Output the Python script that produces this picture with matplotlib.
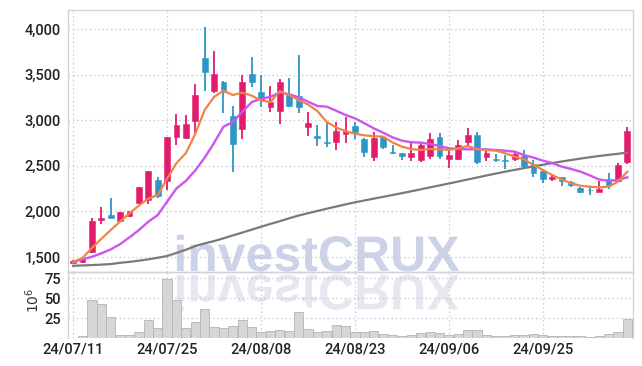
import numpy as np
import matplotlib
matplotlib.use("Agg")
import matplotlib.pyplot as plt
from matplotlib.ticker import FuncFormatter
from matplotlib.textpath import TextPath
from matplotlib.patches import PathPatch
from matplotlib.font_manager import FontProperties
from matplotlib.transforms import Affine2D

# daily candles (KRW), 24/07/11 .. 24/10/11
opens = [1440, 1450, 1550, 1910, 1960, 1890, 1955, 2090, 2120, 2340,
         2330, 2815, 2810, 2995, 3685, 3315, 3420, 3045, 2900, 3505,
         3305, 3140, 3105, 3290, 3265, 2920, 2825, 2765, 2765, 2845,
         2935, 2790, 2600, 2820, 2655, 2635, 2600, 2565, 2610, 2820,
         2575, 2580, 2765, 2840, 2600, 2580, 2560, 2575, 2605, 2520,
         2445, 2355, 2375, 2320, 2260, 2240, 2215, 2350, 2335, 2545]
highs = [1465, 1500, 1925, 2050, 2145, 1995, 2005, 2270, 2445, 2375,
         2820, 3065, 3055, 3395, 4020, 3760, 3430, 3155, 3495, 3690,
         3495, 3375, 3450, 3460, 3715, 3085, 2945, 2985, 2975, 3040,
         2975, 2810, 2875, 2830, 2730, 2640, 2765, 2745, 2865, 2865,
         2675, 2785, 2910, 2875, 2665, 2630, 2620, 2655, 2675, 2565,
         2455, 2400, 2380, 2330, 2265, 2270, 2335, 2425, 2535, 2920]
lows = [1430, 1440, 1540, 1860, 1925, 1885, 1940, 2080, 2085, 2150,
        2230, 2730, 2790, 2855, 3320, 3295, 3080, 2435, 2795, 3365,
        3150, 3090, 2960, 3145, 3080, 2825, 2715, 2710, 2675, 2750,
        2790, 2600, 2555, 2680, 2630, 2560, 2555, 2540, 2580, 2580,
        2475, 2565, 2705, 2525, 2555, 2545, 2460, 2555, 2475, 2375,
        2310, 2335, 2280, 2265, 2200, 2185, 2210, 2245, 2330, 2520]
closes = [1455, 1490, 1895, 1925, 1930, 1990, 2000, 2265, 2440, 2165,
          2815, 2945, 2955, 3275, 3530, 3505, 3305, 2735, 3415, 3415,
          3220, 3195, 3420, 3160, 3140, 2965, 2810, 2750, 2880, 2880,
          2875, 2655, 2800, 2710, 2640, 2610, 2645, 2730, 2795, 2610,
          2620, 2730, 2840, 2545, 2635, 2565, 2550, 2625, 2500, 2420,
          2355, 2375, 2335, 2290, 2210, 2230, 2250, 2290, 2510, 2880]

ma_short = [1445, 1490, 1600, 1700, 1796, 1890, 1980, 2065, 2140, 2180,
            2360, 2530, 2640, 2850, 3112, 3255, 3323, 3276, 3302, 3270,
            3215, 3200, 3320, 3276, 3221, 3172, 3100, 2980, 2920, 2880,
            2852, 2834, 2825, 2820, 2756, 2710, 2684, 2673, 2684, 2681,
            2673, 2692, 2717, 2684, 2673, 2666, 2637, 2600, 2571, 2509,
            2454, 2399, 2352, 2308, 2282, 2271, 2264, 2271, 2326, 2436]
ma_mid = [1448, 1474, 1503, 1540, 1584, 1642, 1716, 1796, 1887, 1960,
          2107, 2253, 2335, 2450, 2590, 2750, 2929, 2980, 3090, 3198,
          3235, 3255, 3304, 3282, 3251, 3203, 3156, 3148, 3104, 3057,
          3021, 2966, 2911, 2863, 2812, 2776, 2758, 2754, 2739, 2717,
          2692, 2684, 2681, 2681, 2681, 2673, 2666, 2655, 2618, 2590,
          2557, 2530, 2491, 2466, 2436, 2395, 2350, 2335, 2345, 2374]
ma_long = [1404, 1408, 1412, 1417, 1423, 1437, 1447, 1460, 1475, 1492,
           1511, 1545, 1580, 1620, 1650, 1675, 1705, 1737, 1768, 1800,
           1832, 1863, 1893, 1925, 1955, 1980, 2005, 2030, 2053, 2077,
           2100, 2120, 2140, 2160, 2180, 2200, 2221, 2242, 2264, 2285,
           2306, 2328, 2350, 2372, 2394, 2415, 2436, 2455, 2475, 2494,
           2512, 2530, 2547, 2563, 2579, 2594, 2608, 2620, 2632, 2645]

# volume, millions of shares
volume = [0.5, 2, 48, 43, 26, 4, 4, 7, 22.5, 13,
          74, 47, 13, 20, 36, 14, 13, 15, 23, 14,
          8, 9, 10, 9, 32, 11.5, 8, 9, 16.5, 15,
          7, 7, 9, 5, 4, 3, 4, 6.5, 8, 6.5,
          4, 5, 10, 10, 4, 3, 3, 4, 4, 5,
          4, 2.5, 2.5, 2.5, 2, 1, 3, 5, 7.5, 24]

tick_pos = [0, 10, 20, 30, 40, 50]
tick_labels = ["24/07/11", "24/07/25", "24/08/08", "24/08/23", "24/09/06", "24/09/25"]
price_ticks = [1500, 2000, 2500, 3000, 3500, 4000]
vol_ticks = [25, 50, 75]

UP = "#e31b6d"
DOWN = "#2e95c7"
GRID = "#c9cadf"
SPINE = "#d2d2d8"
FONT = ["Roboto", "DejaVu Sans"]
TSIZE = 10.5

W, H = 642, 366
fig = plt.figure(figsize=(W / 100, H / 100), dpi=100)
fig.patch.set_facecolor("white")

ax = fig.add_axes([68 / W, (H - 272) / H, 565 / W, 262 / H])
axv = fig.add_axes([68 / W, (H - 338) / H, 565 / W, 66 / H], sharex=ax)
for a in (ax, axv):
    a.set_facecolor("none")
    for s in a.spines.values():
        s.set_color(SPINE)
        s.set_linewidth(1.0)
    a.set_axisbelow(True)

# watermark with reflection
fp = FontProperties(family="Liberation Sans", weight="bold")
tp = TextPath((0, 0), "investCRUX", size=50, prop=fp)
ext = tp.get_extents()
cx = 318
base = H - 271
t_main = Affine2D().translate(-(ext.x0 + ext.x1) / 2, 0).translate(cx, base)
t_refl = Affine2D().translate(-(ext.x0 + ext.x1) / 2, 0).scale(1, -1).translate(cx, base - 4)
fig.add_artist(PathPatch(tp, transform=t_main, facecolor="#ccd2e7", edgecolor="none", zorder=-1))
fig.add_artist(PathPatch(tp, transform=t_refl, facecolor="#e6e7ef", edgecolor="none", zorder=-1))

x = np.arange(len(closes))
o = np.array(opens)
c = np.array(closes)
colors = [UP if cc >= oo else DOWN for oo, cc in zip(o, c)]

ax.vlines(x, lows, highs, colors=colors, linewidth=1.3, zorder=3)
ax.bar(x, np.maximum(np.abs(c - o), 8), bottom=np.minimum(o, c), width=0.62,
       color=colors, edgecolor=colors, linewidth=0.4, zorder=4)

ax.plot(x, ma_long, color="#7a7a7a", lw=1.6, zorder=5)
ax.plot(x, ma_mid, color="#cc55ee", lw=1.7, zorder=5)
ax.plot(x, ma_short, color="#f08448", lw=1.6, zorder=6)

ax.set_xlim(-0.55, 59.6)
ax.set_ylim(1336, 4208)
ax.set_yticks(price_ticks)
ax.yaxis.set_major_formatter(FuncFormatter(lambda v, p: f"{int(v):,}"))
ax.grid(True, color=GRID, linestyle=(0, (1.2, 2.2)), linewidth=0.9)
ax.tick_params(axis="y", length=0, pad=5, labelsize=TSIZE, labelcolor="#222222")
ax.tick_params(axis="x", length=0, labelbottom=False)
for lab in ax.get_yticklabels():
    lab.set_family(FONT)
    lab.set_weight("medium")

axv.bar(x, volume, width=0.98, color="#d6d6d6", edgecolor="#b4b4b4", linewidth=0.6, zorder=3)
axv.set_ylim(0, 82.5)
axv.set_yticks(vol_ticks)
axv.grid(True, color=GRID, linestyle=(0, (1.2, 2.2)), linewidth=0.9)
axv.tick_params(axis="y", length=0, pad=5, labelsize=TSIZE, labelcolor="#222222")
axv.set_xticks(tick_pos)
axv.set_xticklabels(tick_labels)
axv.tick_params(axis="x", length=0, pad=3, labelsize=TSIZE, labelcolor="#222222")
for lab in axv.get_yticklabels() + axv.get_xticklabels():
    lab.set_family(FONT)
    lab.set_weight("medium")
axv.spines["bottom"].set_visible(False)

fig.text(33 / W, (H - 300) / H, r"$10^6$", rotation=90, ha="center", va="center",
         fontsize=10, color="#333333")

fig.savefig("out.png", dpi=100)
